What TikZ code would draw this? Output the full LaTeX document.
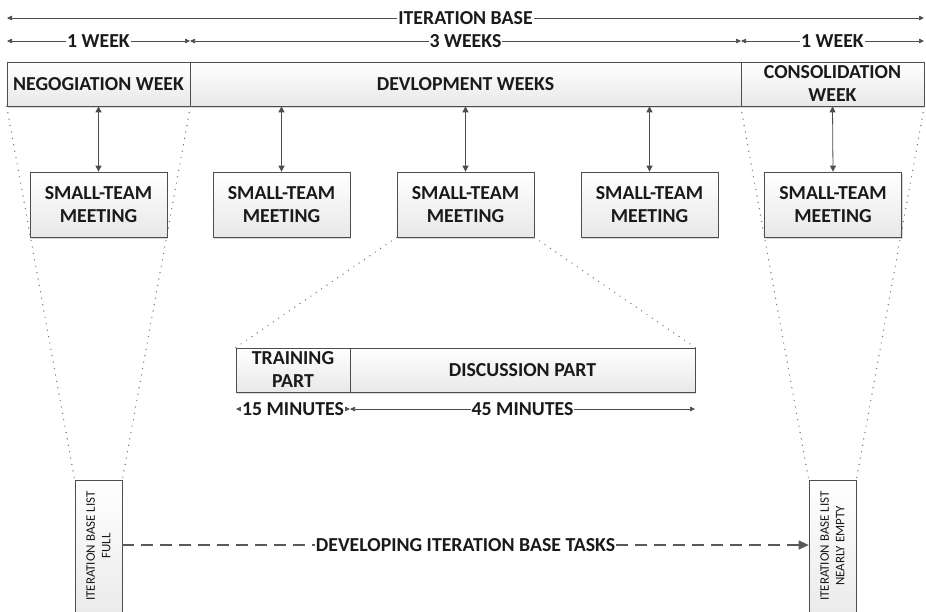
\documentclass[tikz,border=0pt]{standalone}
\usepackage{fontspec}
\setmainfont{Carlito}
\usetikzlibrary{arrows.meta,shadows}
\definecolor{ink}{HTML}{1A1A1A}
\definecolor{edge}{HTML}{4D4D4D}
\begin{document}
\begin{tikzpicture}[x=1pt,y=-1pt,
  lblfont/.style={font=\fontsize{19.8}{23}\selectfont\bfseries},
  box/.style={draw=edge, line width=0.7pt, top color=white, bottom color=black!9,
    drop shadow={shadow xshift=1pt,shadow yshift=-1.5pt,opacity=0.3},
    inner sep=2pt, align=center, text=ink, lblfont},
  dim/.style={draw=edge, line width=0.7pt,
    {Triangle[length=5pt,width=4.5pt]}-{Triangle[length=5pt,width=4.5pt]}},
  dimlab/.style={fill=white, inner sep=1pt, text=ink, lblfont},
  link/.style={draw=edge, line width=0.8pt,
    {Triangle[length=6pt,width=6pt]}-{Triangle[length=6pt,width=6pt]}},
  guide/.style={draw=black!55, line width=1.4pt, line cap=round, dash pattern=on 0pt off 6.5pt},
  taskline/.style={draw=black!65, line width=1.3pt, dash pattern=on 12pt off 7pt,
    -{Triangle[length=10pt,width=9pt]}},
  rot/.style={rotate=90, align=center, text=ink, font=\fontsize{13}{15.5}\selectfont}]

\useasboundingbox (0,0) rectangle (926,611);
\clip (0,0) rectangle (926,611);
\fill[white] (0,0) rectangle (926,611);

% phase headers
\node[box, minimum width=183pt, minimum height=44pt] (neg)  at (98.5,84)  {NEGOGIATION WEEK};
\node[box, minimum width=551pt, minimum height=44pt] (dev)  at (465.5,84) {DEVLOPMENT WEEKS};
\node[box, minimum width=183pt, minimum height=44pt] (cons) at (832.5,84) {CONSOLIDATION\\WEEK};

% weekly meetings
\foreach \i/\x in {1/98.5,2/281.5,3/465.5,4/649.5,5/833}
  \node[box, minimum width=137pt, minimum height=65pt] (st\i) at (\x,204.5) {SMALL-TEAM\\MEETING};

% meeting breakdown
\node[box, minimum width=114pt, minimum height=44pt] (train) at (293,370)   {TRAINING\\PART};
\node[box, minimum width=345pt, minimum height=44pt] (disc)  at (522.5,370) {DISCUSSION PART};

% iteration base lists
\node[box, minimum width=47pt, minimum height=150pt] (lfull) at (98.5,555)  {};
\node[box, minimum width=47pt, minimum height=150pt] (rfull) at (832.5,555) {};
\node[rot] (lfulltxt) at (98.5,546)  {ITERATION BASE LIST\\FULL};
\node[rot] (rfulltxt) at (832.5,546) {ITERATION BASE LIST\\NEARLY EMPTY};

% header-to-meeting links
\draw[link] (neg.south) -- (st1.north);
\draw[link] (st2.north |- dev.south) -- (st2.north);
\draw[link] (st3.north |- dev.south) -- (st3.north);
\draw[link] (st4.north |- dev.south) -- (st4.north);
\draw[link] (cons.south) -- (st5.north);

% zoom guides
\draw[guide] (neg.south west) -- (lfull.north west);
\draw[guide] (neg.south east) -- (lfull.north east);
\draw[guide] (cons.south west) -- (rfull.north west);
\draw[guide] (cons.south east) -- (rfull.north east);
\draw[guide] (st3.south west) -- (train.north west);
\draw[guide] (st3.south east) -- (disc.north east);

% duration dimensions
\coordinate (ibL) at (7,18);
\coordinate (ibR) at (924,18);
\draw[dim] (ibL) -- node[dimlab] {ITERATION BASE} (ibR);

\coordinate (w0) at (7,41);
\coordinate (w1) at (190,41);
\coordinate (w2) at (741,41);
\coordinate (w3) at (924,41);
\draw[dim] (w0) -- node[dimlab] {1 WEEK} (w1);
\draw[dim] (w1) -- node[dimlab] {3 WEEKS} (w2);
\draw[dim] (w2) -- node[dimlab] {1 WEEK} (w3);

\coordinate (m0) at (236,409);
\coordinate (m1) at (350,409);
\coordinate (m2) at (695,409);
\draw[dim] (m0) -- node[dimlab] {15 MINUTES} (m1);
\draw[dim] (m1) -- node[dimlab] {45 MINUTES} (m2);

% task progress
\coordinate (task) at (465,545);
\draw[taskline] (lfull.east |- task) -- node[dimlab] {DEVELOPING ITERATION BASE TASKS} (rfull.west |- task);
\end{tikzpicture}
\end{document}
